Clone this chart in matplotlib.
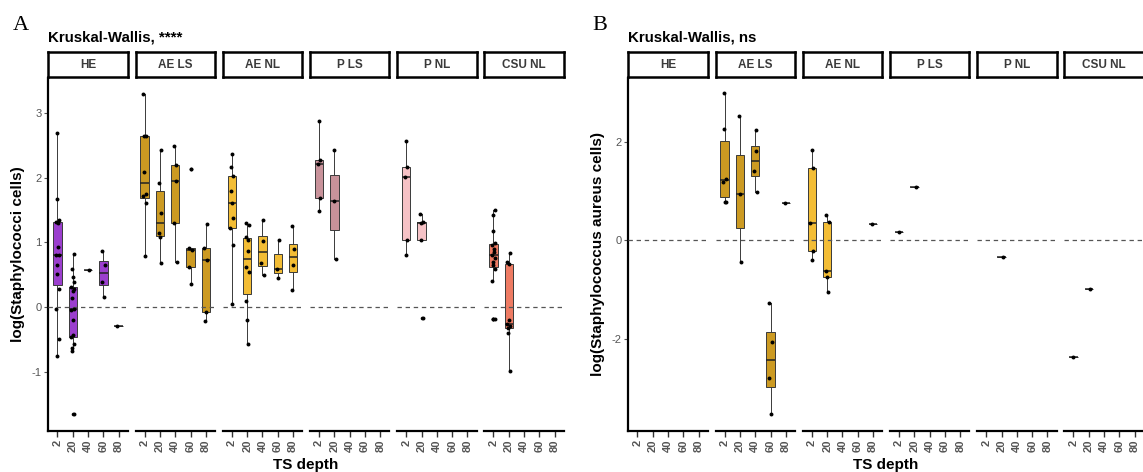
import numpy as np
import matplotlib
matplotlib.use('Agg')
import matplotlib.pyplot as plt

plt.rcParams['font.family'] = ['Liberation Sans', 'DejaVu Sans']

W, H = 1143, 472

depths = ['2', '20', '40', '60', '80']
sites = ['HE', 'AE LS', 'AE NL', 'P LS', 'P NL', 'CSU NL']
site_colors = ['#9b3fce', '#cc9a22', '#f3bd35', '#c8929a', '#f6c2c6', '#ee7b63']

# A: log(Staphylococci cells), one list per TS depth (2, 20, 40, 60, 80)
a_he = [[-0.76, -0.50, -0.04, 0.28, 0.51, 0.64, 0.81, 0.81, 0.93, 1.29, 1.31, 1.34, 1.67, 2.69],
        [-1.66, -0.69, -0.64, -0.57, -0.46, -0.44, -0.21, -0.05, -0.04, 0.13, 0.25, 0.27, 0.31, 0.38, 0.46, 0.58, 0.82],
        [0.57],
        [0.16, 0.39, 0.65, 0.87],
        [-0.29]]
a_ae_ls = [[0.79, 1.60, 1.71, 1.75, 2.08, 2.64, 2.64, 3.29],
           [0.68, 1.08, 1.14, 1.45, 1.91, 2.42],
           [0.69, 1.30, 1.94, 2.20, 2.49],
           [0.35, 0.62, 0.88, 0.91, 2.13],
           [-0.22, -0.08, 0.72, 0.91, 1.28]]
a_ae_nl = [[0.04, 0.95, 1.22, 1.38, 1.61, 1.79, 2.03, 2.17, 2.36],
           [-0.57, -0.21, 0.09, 0.54, 0.62, 0.87, 1.03, 1.08, 1.26, 1.30],
           [0.49, 0.68, 1.02, 1.35],
           [0.45, 0.59, 1.04],
           [0.26, 0.64, 0.89, 1.25]]
a_p_ls = [[1.49, 1.68, 2.21, 2.27, 2.88], [0.74, 1.64, 2.43], [], [], []]
a_p_nl = [[0.81, 1.04, 2.01, 2.17, 2.57], [-0.17, 1.04, 1.30, 1.31, 1.43], [], [], []]
a_csu_nl = [[-0.19, -0.18, 0.40, 0.58, 0.64, 0.69, 0.75, 0.80, 0.85, 0.90, 0.95, 0.99, 1.18, 1.42, 1.50],
            [-0.99, -0.41, -0.33, -0.30, -0.26, -0.21, 0.67, 0.69, 0.84], [], [], []]

# B: log(Staphylococcus aureus cells)
b_he = [[], [], [], [], []]
b_ae_ls = [[0.78, 0.78, 1.19, 1.25, 2.27, 2.99],
           [-0.43, 0.94, 2.53],
           [0.98, 1.41, 1.81, 2.24],
           [-3.52, -2.79, -2.06, -1.27],
           [0.76]]
b_ae_nl = [[-0.39, -0.22, 0.36, 1.47, 1.84], [-1.05, -0.75, -0.61, 0.38, 0.52], [], [], [0.34]]
b_p_ls = [[0.17], [1.08], [], [], []]
b_p_nl = [[], [-0.33], [], [], []]
b_csu_nl = [[-2.36], [-0.99], [], [], []]

panel_a = [a_he, a_ae_ls, a_ae_nl, a_p_ls, a_p_nl, a_csu_nl]
panel_b = [b_he, b_ae_ls, b_ae_nl, b_p_ls, b_p_nl, b_csu_nl]

fig = plt.figure(figsize=(W / 100, H / 100), dpi=100)

top_px, bot_px = 78, 431
facet_w, facet_step = 79.5, 87.2


def draw_panel(left_px, data, ylim, yticks, ylabel, title, letter):
    for k, (site, col, groups) in enumerate(zip(sites, site_colors, data)):
        x0 = left_px + k * facet_step
        ax = fig.add_axes([x0 / W, 1 - bot_px / H, facet_w / W, (bot_px - top_px) / H])
        ax.set_xlim(-0.6, 4.6)
        ax.set_ylim(*ylim)

        pos = [j for j, g in enumerate(groups) if g]
        vals = [groups[j] for j in pos]
        if vals:
            ax.boxplot(vals, positions=pos, widths=0.55, patch_artist=True,
                       whis=1.5, showcaps=False, manage_ticks=False,
                       boxprops=dict(facecolor=col, edgecolor='#3a3a3a', linewidth=0.7),
                       whiskerprops=dict(color='#3a3a3a', linewidth=0.7),
                       medianprops=dict(color='#222222', linewidth=1.1),
                       flierprops=dict(marker='o', markersize=2.6, markerfacecolor='black',
                                       markeredgewidth=0))
            # jittered sample points
            for j, g in zip(pos, vals):
                off = 0.1 * np.sin(np.arange(len(g)) * 2.4 + j)
                ax.scatter(j + off, g, s=8, color='black', zorder=4, linewidths=0)

        ax.axhline(0, color='#555555', lw=0.9, ls=(0, (3.5, 3)), zorder=3)

        ax.set_xticks(range(len(depths)))
        ax.set_xticklabels(depths, rotation=90, fontsize=8, fontweight='bold', color='#555555')
        ax.tick_params(axis='x', length=4, width=1.0, color='#333333', pad=2)
        for s in ('top', 'right'):
            ax.spines[s].set_visible(False)
        ax.spines['bottom'].set_linewidth(1.6)
        if k == 0:
            ax.spines['left'].set_linewidth(1.6)
            ax.set_yticks(yticks)
            ax.set_yticklabels([str(t) for t in yticks], fontsize=8, color='#555555')
            ax.tick_params(axis='y', length=3, width=0.8, color='#555555', pad=2)
        else:
            ax.spines['left'].set_visible(False)
            ax.set_yticks([])

        # facet strip
        sax = fig.add_axes([x0 / W, 1 - 77 / H, facet_w / W, 25 / H])
        sax.set_xticks([])
        sax.set_yticks([])
        for s in sax.spines.values():
            s.set_linewidth(1.8)
        sax.text(0.5, 0.47, site, ha='center', va='center', fontsize=8.5,
                 fontweight='bold', color='#3a3a3a', transform=sax.transAxes)

    right_px = left_px + 5 * facet_step + facet_w
    fig.text(left_px / W, 1 - 41.5 / H, title, fontsize=10.8, fontweight='bold', va='baseline')
    fig.text((left_px - 36) / W, 1 - 30 / H, letter, fontsize=16,
             family='Liberation Serif', va='baseline')
    fig.text((left_px - 30) / W, 1 - (top_px + bot_px) / 2 / H, ylabel, rotation=90,
             ha='center', va='center', fontsize=11, fontweight='bold')
    fig.text((left_px + right_px) / 2 / W, 1 - 469 / H, 'TS depth', ha='center',
             va='baseline', fontsize=11, fontweight='bold')


draw_panel(48.3, panel_a, (-1.92, 3.54), [-1, 0, 1, 2, 3],
           'log(Staphylococci cells)', 'Kruskal-Wallis, ****', 'A')
draw_panel(628.3, panel_b, (-3.87, 3.30), [-2, 0, 2],
           'log(Staphylococcus aureus cells)', 'Kruskal-Wallis, ns', 'B')

fig.savefig('out.png', dpi=100)
